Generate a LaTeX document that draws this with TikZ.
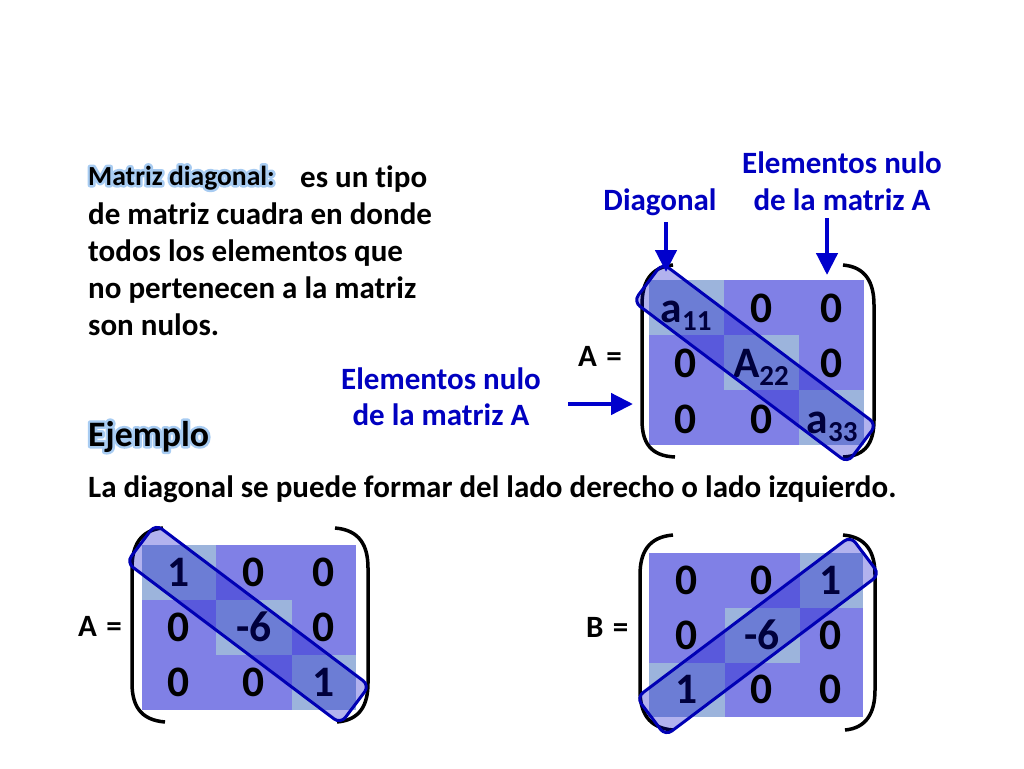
\documentclass[tikz,border=0pt]{standalone}
\usepackage{fontspec}
\setmainfont{Carlito}[Ligatures=NoCommon]
\usetikzlibrary{arrows.meta}
\definecolor{offc}{RGB}{128,128,230}
\definecolor{diagc}{RGB}{156,180,220}
\definecolor{bandfill}{RGB}{0,0,200}
\definecolor{bandline}{RGB}{0,0,180}
\definecolor{lblue}{RGB}{0,0,192}
\definecolor{arrc}{RGB}{0,0,204}
\newcommand\myfmain{\fontsize{31}{37}\selectfont\bfseries}
\newcommand\myfsmall{\fontsize{27.6}{32}\selectfont\bfseries}
\newcommand\myfbig{\fontsize{35.8}{42}\selectfont\bfseries}
\newcommand\myfnum{\fontsize{43.5}{50}\selectfont\bfseries}
\newcommand\mysub[2]{#1\raisebox{-8.5pt}{\fontsize{29}{29}\selectfont #2}}
\newcommand\myglow[1]{\rlap{\special{pdf:literal direct 1 Tr 5 w 1 J 1 j 0.66 0.80 0.95 RG}#1\special{pdf:literal direct 0 Tr}}#1}
\tikzset{
  txt/.style={inner sep=0pt, anchor=base west, font=\myfmain},
  lbl/.style={inner sep=0pt, anchor=base, font=\myfmain, text=lblue},
  num/.style={inner sep=0pt, anchor=base, font=\myfnum},
  offcell/.style={fill=offc, draw=none},
  diagcell/.style={fill=diagc, draw=none},
  band/.style={draw=bandline, line width=3pt, fill=bandfill, fill opacity=0.3, rounded corners=8pt, minimum width=268pt, minimum height=48pt, inner sep=0pt},
  paren/.style={draw=black, line width=3.5pt},
  arr/.style={draw=arrc, line width=4.5pt, -{Triangle[length=22pt,width=21pt]}}
}
\begin{document}
\begin{tikzpicture}[x=1pt,y=-1pt]
\useasboundingbox (0,0) rectangle (1024,768);
\fill[white] (0,0) rectangle (1024,768);

% ---------- Intro text ----------
\node[txt, font=\myfsmall] (md) at (88,185) {\myglow{Matriz diagonal:}};
\node[txt] (l1) at (300,187) {es un tipo};
\node[txt] (l2) at (88,224) {de matriz cuadra en donde};
\node[txt] (l3) at (88,261) {todos los elementos que};
\node[txt] (l4) at (88,298) {no pertenecen a la matriz};
\node[txt] (l5) at (88,335) {son nulos.};

\node[txt, font=\myfbig] (ej) at (88,446) {\myglow{Ejemplo}};
\node[txt] (ld) at (88,497) {La diagonal se puede formar del lado derecho o lado izquierdo.};

% ---------- Top matrix ----------
\fill[diagcell] (649,280) rectangle (724,335);
\fill[offcell] (724,280) rectangle (799,335);
\fill[offcell] (799,280) rectangle (864,335);
\fill[offcell] (649,335) rectangle (724,390);
\fill[diagcell] (724,335) rectangle (799,390);
\fill[offcell] (799,335) rectangle (864,390);
\fill[offcell] (649,390) rectangle (724,445);
\fill[offcell] (724,390) rectangle (799,445);
\fill[diagcell] (799,390) rectangle (864,445);

\node[num] (t11) at (686,322) {\mysub{a}{11}};
\node[num] (t12) at (762,322) {0};
\node[num] (t13) at (832,322) {0};
\node[num] (t21) at (686,377) {0};
\node[num] (t22) at (761,377) {\mysub{A}{22}};
\node[num] (t23) at (832,377) {0};
\node[num] (t31) at (686,433) {0};
\node[num] (t32) at (762,433) {0};
\node[num] (t33) at (832,433) {\mysub{a}{33}};

\draw[paren] (673,265) .. controls (650,267) and (642,283) .. (642,305) -- (642,420) .. controls (642,442) and (650,456) .. (675,457);
\draw[paren] (843,265) .. controls (866,267) and (874,283) .. (874,305) -- (874,420) .. controls (874,442) and (866,456) .. (843,457);

\node[band, rotate=-37] (bt) at (755,363) {};

\node[txt] (aeq1) at (578,366) {A\hspace{0.3em}=};

% labels and arrows
\node[lbl] (ldiag) at (660,210) {Diagonal};
\node[lbl] (lel1) at (842,173) {Elementos nulo};
\node[lbl] (lel2) at (842,210) {de la matriz A};
\node[lbl] (lem1) at (441,389) {Elementos nulo};
\node[lbl] (lem2) at (441,425) {de la matriz A};

\coordinate (a1s) at (666,222);
\coordinate (a1e) at (666,272);
\coordinate (a2s) at (827,218);
\coordinate (a2e) at (827,275);
\coordinate (a3s) at (568,404);
\coordinate (a3e) at (633,404);
\draw[arr] (a1s) -- (a1e);
\draw[arr] (a2s) -- (a2e);
\draw[arr] (a3s) -- (a3e);

% ---------- Bottom-left matrix A ----------
\fill[diagcell] (142,545) rectangle (216,600);
\fill[offcell] (216,545) rectangle (292,600);
\fill[offcell] (292,545) rectangle (356,600);
\fill[offcell] (142,600) rectangle (216,655);
\fill[diagcell] (216,600) rectangle (292,655);
\fill[offcell] (292,600) rectangle (356,655);
\fill[offcell] (142,655) rectangle (216,710);
\fill[offcell] (216,655) rectangle (292,710);
\fill[diagcell] (292,655) rectangle (356,710);

\node[num] (b11) at (179,586) {1};
\node[num] (b12) at (254,586) {0};
\node[num] (b13) at (324,586) {0};
\node[num] (b21) at (179,641) {0};
\node[num] (b22) at (254,641) {-6};
\node[num] (b23) at (324,641) {0};
\node[num] (b31) at (179,696) {0};
\node[num] (b32) at (254,696) {0};
\node[num] (b33) at (324,696) {1};

\draw[paren] (163,528) .. controls (140,530) and (132,546) .. (132,568) -- (132,683) .. controls (132,705) and (140,720) .. (165,722);
\draw[paren] (335,528) .. controls (360,530) and (368,546) .. (368,568) -- (368,683) .. controls (368,705) and (360,720) .. (337,722);

\node[band, rotate=-37] (bl) at (248,624) {};
\node[txt] (aeq2) at (78,636) {A\hspace{0.3em}=};

% ---------- Bottom-right matrix B ----------
\fill[offcell] (649,553) rectangle (725,608);
\fill[offcell] (725,553) rectangle (800,608);
\fill[diagcell] (800,553) rectangle (863,608);
\fill[offcell] (649,608) rectangle (725,663);
\fill[diagcell] (725,608) rectangle (800,663);
\fill[offcell] (800,608) rectangle (863,663);
\fill[diagcell] (649,663) rectangle (725,717);
\fill[offcell] (725,663) rectangle (800,717);
\fill[offcell] (800,663) rectangle (863,717);

\node[num] (c11) at (687,594) {0};
\node[num] (c12) at (762,594) {0};
\node[num] (c13) at (831,594) {1};
\node[num] (c21) at (687,649) {0};
\node[num] (c22) at (762,649) {-6};
\node[num] (c23) at (831,649) {0};
\node[num] (c31) at (687,703) {1};
\node[num] (c32) at (762,703) {0};
\node[num] (c33) at (831,703) {0};

\draw[paren] (673,535) .. controls (648,537) and (640,553) .. (640,575) -- (640,690) .. controls (640,712) and (648,728) .. (673,730);
\draw[paren] (843,535) .. controls (867,537) and (875,553) .. (875,575) -- (875,690) .. controls (875,712) and (867,728) .. (845,730);

\node[band, rotate=37] (br) at (758,636) {};
\node[txt] (beq) at (586,637) {B\hspace{0.3em}=};
\end{tikzpicture}
\end{document}
